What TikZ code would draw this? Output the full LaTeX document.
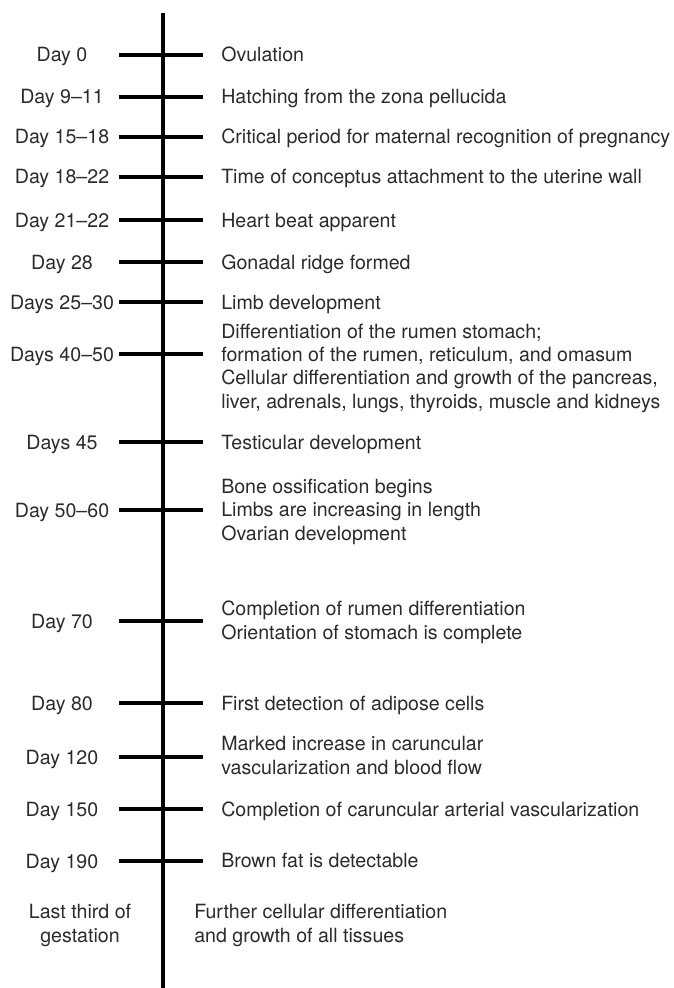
\documentclass[tikz,border=0pt]{standalone}
\usepackage{fontspec}
\setmainfont{TeX Gyre Heros}
\definecolor{txt}{HTML}{2B2B2B}
\begin{document}
\begin{tikzpicture}[x=0.75pt,y=-0.75pt,
  axisline/.style={line width=3pt,black},
  tickline/.style={line width=3.6pt,black},
  lblfont/.style={inner sep=0pt,text=txt,font=\fontsize{14.7}{17.3}\selectfont},
  daylbl/.style={lblfont,align=center,anchor=base},
  evlbl/.style={lblfont,align=left,anchor=base west}]
\useasboundingbox (0,0) rectangle (674,988);
\coordinate (top) at (163,13);
\coordinate (bot) at (163,988);
\draw[axisline] (top) -- (bot);
% name / tick y / last-line y of event text / left label / right label
\foreach \n/\y/\yr/\l/\r in {
 a/55/55/{Day 0}/{Ovulation},
 b/97/97/{Day 9--11}/{Hatching from the zona pellucida},
 c/137/137/{Day 15--18}/{Critical period for maternal recognition of pregnancy},
 d/177/177/{Day 18--22}/{Time of conceptus attachment to the uterine wall},
 e/220/220/{Day 21--22}/{Heart beat apparent},
 f/262/262/{Day 28}/{Gonadal ridge formed},
 g/302/302/{Days 25--30}/{Limb development},
 h/354/401/{Days 40--50}/{Differentiation of the rumen stomach;\\formation of the rumen, reticulum, and omasum\\Cellular differentiation and growth of the pancreas,\\liver, adrenals, lungs, thyroids, muscle and kidneys},
 i/442/442/{Days 45}/{Testicular development},
 j/510/533/{Day 50--60}/{Bone ossification begins\\Limbs are increasing in length\\Ovarian development},
 k/621/632/{Day 70}/{Completion of rumen differentiation\\Orientation of stomach is complete},
 l/703/703/{Day 80}/{First detection of adipose cells},
 m/757/767/{Day 120}/{Marked increase in caruncular\\vascularization and blood flow},
 n/809/809/{Day 150}/{Completion of caruncular arterial vascularization},
 o/861/860/{Day 190}/{Brown fat is detectable}}{
  \coordinate (\n L) at (119,\y);
  \coordinate (\n R) at (203,\y);
  \draw[tickline] (\n L) -- (\n R);
  \node[daylbl] (\n day) at (62,\y+7) {\l};
  \node[evlbl] (\n ev) at (221,\yr+7) {\r};
}
\node[daylbl] (pday) at (80,942) {Last third of\\gestation};
\node[evlbl] (pev) at (194,942) {Further cellular differentiation\\and growth of all tissues};
\end{tikzpicture}
\end{document}
